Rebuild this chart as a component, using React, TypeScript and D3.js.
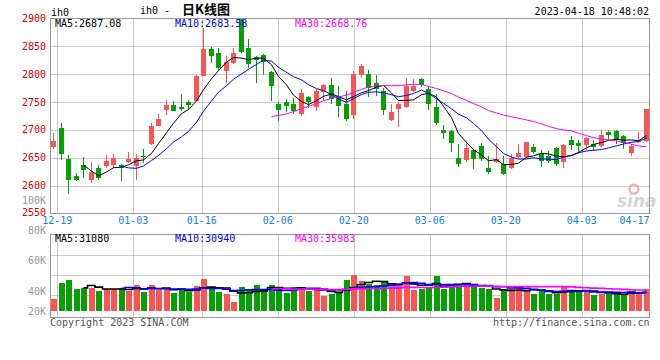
import React from "react";
import * as d3 from "d3";

// trading days shown, 12-19 .. 04-18
const dates = [
  "12-19", "12-20", "12-21", "12-22", "12-23", "12-26", "12-27", "12-28", "12-29", "12-30",
  "01-03", "01-04", "01-05", "01-06", "01-09", "01-10", "01-11", "01-12", "01-13", "01-16",
  "01-17", "01-18", "01-19", "01-20", "01-30", "01-31", "02-01", "02-02", "02-03", "02-06",
  "02-07", "02-08", "02-09", "02-10", "02-13", "02-14", "02-15", "02-16", "02-17", "02-20",
  "02-21", "02-22", "02-23", "02-24", "02-27", "02-28", "03-01", "03-02", "03-03", "03-06",
  "03-07", "03-08", "03-09", "03-10", "03-13", "03-14", "03-15", "03-16", "03-17", "03-20",
  "03-21", "03-22", "03-23", "03-24", "03-27", "03-28", "03-29", "03-30", "03-31", "04-03",
  "04-04", "04-06", "04-07", "04-10", "04-11", "04-12", "04-13", "04-14", "04-17", "04-18",
];

const openP = [
  2669.8, 2703.7, 2647.2, 2618.0, 2636.5, 2610.3, 2631.1, 2635.3, 2637.1, 2636.5,
  2642.4, 2635.3, 2654.0, 2674.0, 2707.9, 2736.4, 2745.3, 2741.8, 2750.1, 2752.5,
  2797.1, 2845.3, 2838.8, 2806.0, 2819.7, 2899.0, 2847.7, 2831.6, 2834.6, 2803.1,
  2746.5, 2749.5, 2747.1, 2729.3, 2759.6, 2740.6, 2768.0, 2781.0, 2760.2, 2747.1,
  2727.5, 2797.7, 2800.7, 2784.0, 2770.3, 2718.6, 2738.2, 2740.6, 2769.2, 2791.8,
  2773.9, 2741.2, 2699.5, 2697.7, 2650.1, 2645.4, 2663.2, 2670.4, 2632.3, 2642.4,
  2639.4, 2631.1, 2651.3, 2651.3, 2669.2, 2656.1, 2653.1, 2666.8, 2643.0, 2681.1,
  2676.9, 2672.8, 2674.0, 2671.0, 2696.6, 2697.7, 2688.8, 2659.1, 2678.7, 2679.9,
];
const highP = [
  2693.6, 2713.2, 2654.3, 2622.8, 2652.0, 2642.4, 2636.5, 2654.3, 2656.1, 2638.2,
  2660.3, 2656.1, 2665.0, 2712.6, 2729.3, 2754.3, 2752.5, 2764.4, 2754.3, 2798.9,
  2882.2, 2849.5, 2847.7, 2833.4, 2847.7, 2900.0, 2863.2, 2833.4, 2835.8, 2806.0,
  2750.1, 2756.1, 2757.2, 2773.9, 2761.4, 2773.9, 2782.8, 2794.1, 2778.1, 2769.1,
  2804.9, 2818.5, 2807.8, 2798.9, 2775.1, 2747.1, 2750.1, 2794.1, 2791.8, 2794.1,
  2778.1, 2765.0, 2709.7, 2700.7, 2674.0, 2679.9, 2666.2, 2676.9, 2653.1, 2675.7,
  2653.1, 2656.1, 2674.0, 2678.7, 2674.0, 2663.8, 2662.0, 2669.2, 2674.0, 2690.0,
  2681.1, 2687.0, 2681.1, 2700.7, 2699.5, 2700.7, 2690.6, 2674.0, 2696.6, 2738.2,
];
const lowP = [
  2665.0, 2646.0, 2584.7, 2608.5, 2613.3, 2605.0, 2610.3, 2631.1, 2632.3, 2608.5,
  2641.2, 2610.3, 2641.2, 2672.8, 2706.7, 2726.3, 2733.4, 2734.6, 2735.2, 2751.3,
  2795.9, 2820.9, 2807.8, 2784.0, 2818.5, 2837.6, 2812.0, 2784.0, 2798.9, 2752.5,
  2716.8, 2732.3, 2729.3, 2725.7, 2739.4, 2733.4, 2751.3, 2746.5, 2722.7, 2715.6,
  2720.4, 2792.9, 2759.6, 2760.2, 2726.3, 2716.8, 2704.9, 2739.4, 2767.4, 2776.3,
  2736.4, 2709.7, 2682.9, 2660.3, 2634.0, 2643.0, 2629.3, 2644.2, 2621.6, 2641.2,
  2619.2, 2629.3, 2649.0, 2650.1, 2656.1, 2633.5, 2641.2, 2635.3, 2632.3, 2663.2,
  2659.1, 2663.2, 2662.0, 2669.2, 2681.1, 2674.0, 2665.0, 2653.1, 2676.9, 2678.7,
];
const closeP = [
  2679.3, 2657.3, 2610.3, 2610.3, 2628.1, 2625.2, 2614.5, 2644.2, 2649.0, 2632.3,
  2647.2, 2650.1, 2652.0, 2707.9, 2719.8, 2745.3, 2734.6, 2738.2, 2745.3, 2797.1,
  2845.3, 2833.4, 2810.8, 2822.7, 2837.6, 2840.5, 2817.9, 2825.7, 2822.7, 2778.1,
  2735.2, 2742.4, 2733.4, 2766.2, 2750.1, 2770.3, 2781.0, 2755.5, 2742.4, 2719.8,
  2800.7, 2815.0, 2775.1, 2773.9, 2735.2, 2732.3, 2746.5, 2778.1, 2778.1, 2779.9,
  2746.5, 2712.6, 2694.8, 2675.7, 2638.2, 2666.8, 2647.2, 2647.2, 2624.6, 2647.2,
  2621.6, 2650.1, 2657.9, 2677.5, 2660.9, 2644.2, 2644.2, 2638.2, 2672.2, 2672.2,
  2671.0, 2684.7, 2669.2, 2690.6, 2690.6, 2681.1, 2676.9, 2671.0, 2682.3, 2738.2,
];
const volume = [
  19500, 46700, 51700, 36700, 38300, 38800, 33300, 36700, 36700, 38300,
  33800, 43300, 32200, 43300, 35500, 36700, 30000, 36700, 31200, 41700,
  53300, 36200, 31700, 28300, 15000, 40000, 36700, 43300, 32800, 43300,
  40000, 30500, 40000, 40000, 33300, 36700, 25000, 28800, 31700, 51200,
  59500, 49500, 45500, 42800, 48300, 40000, 45500, 57800, 34500, 37200,
  40000, 58300, 37200, 41700, 45500, 45500, 41200, 38300, 37200, 21700,
  37200, 37200, 40000, 33800, 28800, 32800, 27800, 28800, 41200, 33300,
  34500, 31700, 26200, 28800, 28800, 28800, 27200, 33800, 28800, 36200,
];

const priceTicks = [2900, 2850, 2800, 2750, 2700, 2650, 2600, 2550];
const volTicks = [100000, 80000, 60000, 40000, 20000];
const dateTicks = ["12-19", "01-03", "01-16", "02-06", "02-20", "03-06", "03-20", "04-03", "04-17"];
const maPeriods = [5, 10, 30];
const maColors = ["#000000", "#0000ff", "#ff00ff"];
const priceMaText = ["MA5:2687.08", "MA10:2683.58", "MA30:2668.76"];
const volMaText = ["MA5:31080", "MA10:30940", "MA30:35983"];

function movingAvg(arr: number[], n: number): (number | null)[] {
  return arr.map((_, i) => (i < n - 1 ? null : d3.mean(arr.slice(i - n + 1, i + 1))!));
}

const MONO = "'DejaVu Sans Mono', monospace";
const RED = "#fa5555";
const GREEN = "#06a006";

export default function App() {
  const left = 50.5, right = 649.5;
  const pTop = 18.5, pBot = 213.5;
  const vTop = 234.5, vBot = 317.5, vBase = 311;

  const x = d3.scaleBand<string>().domain(dates).range([49.5, 649.5]);
  const cx = (i: number) => Math.round(x(dates[i])! + x.bandwidth() / 2);
  // sina puts its date grid on a slightly different step than the candles
  const gx = d3.scaleLinear().domain([0, dates.length - 1]).range([57.3, 657.7]);
  const y = d3.scaleLinear().domain([2550, 2900]).range([pBot, pTop]);
  const yv = d3.scaleLinear().domain([0, 127000]).range([vBase, 234.8]);
  const yvLabel = d3.scaleLinear().domain([0, 100000]).range([355, 204]);

  const priceLine = d3.line<number | null>()
    .defined(d => d != null)
    .x((_, i) => cx(i) + 0.5)
    .y(d => y(d as number));
  const volLine = d3.line<number | null>()
    .defined(d => d != null)
    .x((_, i) => cx(i) + 0.5)
    .y(d => yv(d as number))
    .curve(d3.curveStep);

  const gridXs = dateTicks
    .map(t => gx(dates.indexOf(t)))
    .filter(v => v < right - 1);
  const grid = { stroke: "#999", strokeDasharray: "1,1", strokeWidth: 1 };

  return (
    <svg width={660} height={360} style={{ position: "absolute", left: 0, top: 0, background: "#fff" }}
      fontFamily={MONO} fontSize={10}>
      {/* header */}
      <text x={51} y={16} fill="#000">ih0</text>
      <text x={140} y={13.5} fill="#000">
        ih0 -<tspan dx={12} fontFamily="'Noto Sans CJK SC'" fontWeight="bold" fontSize={13}>日K线图</tspan>
      </text>
      <text x={649} y={15} textAnchor="end" fill="#000">2023-04-18 10:48:02</text>

      {/* price grid */}
      {priceTicks.slice(1, -1).map(t => (
        <line key={t} x1={left} x2={right} y1={Math.round(y(t)) + 0.5} y2={Math.round(y(t)) + 0.5} style={grid} />
      ))}
      {gridXs.map((gxv, i) => (
        <line key={i} x1={Math.round(gxv) + 0.5} x2={Math.round(gxv) + 0.5} y1={pTop} y2={pBot} style={grid} />
      ))}

      {/* watermark */}
      <circle cx={634} cy={189} r={4.5} fill="none" stroke="#f3a8a8" strokeWidth={2} />
      <text x={617} y={207} fontFamily="'DejaVu Sans'" fontStyle="italic" fontWeight="bold" fontSize={17} fill="#d4d4d4">sina</text>

      {/* candles */}
      {dates.map((d, i) => {
        const up = closeP[i] >= openP[i];
        const c = up ? RED : GREEN;
        const top = y(Math.max(openP[i], closeP[i]));
        const bot = y(Math.min(openP[i], closeP[i]));
        return (
          <g key={d} shapeRendering="crispEdges">
            <line x1={cx(i) + 0.5} x2={cx(i) + 0.5} y1={y(highP[i])} y2={y(lowP[i])} stroke={c} />
            <rect x={cx(i) - 2} y={top} width={5} height={Math.max(1, bot - top)} fill={c} />
          </g>
        );
      })}

      {/* price MAs */}
      {maPeriods.map((n, k) => (
        <path key={n} d={priceLine(movingAvg(closeP, n)) || ""} fill="none" stroke={maColors[k]} strokeWidth={1} />
      ))}

      {/* price frame */}
      <rect x={left} y={pTop} width={right - left} height={pBot - pTop} fill="none" stroke="#999" />
      {priceMaText.map((t, k) => (
        <text key={t} x={55 + k * 120} y={27.3} fill={maColors[k]}>{t}</text>
      ))}
      {priceTicks.map(t => (
        <text key={t} x={46} y={Math.min(215.5, Math.max(19.5, y(t) + 3.5))} textAnchor="end" fill="#e00000">{t}</text>
      ))}

      {/* date labels */}
      {dateTicks.map(t => {
        const px = gx(dates.indexOf(t));
        const lastOne = px > right - 16;
        return (
          <text key={t} x={lastOne ? 649.5 : px} y={224.3} textAnchor={lastOne ? "end" : "middle"} fill="#1482dc">{t}</text>
        );
      })}

      {/* volume grid */}
      {[0, 1, 2].map(k => (
        <line key={k} x1={left} x2={right} y1={255.5 + k * 20} y2={255.5 + k * 20} style={grid} />
      ))}
      {gridXs.map((gxv, i) => (
        <line key={i} x1={Math.round(gxv) + 0.5} x2={Math.round(gxv) + 0.5} y1={vTop} y2={vBot} style={grid} />
      ))}

      {/* volume bars */}
      {dates.map((d, i) => {
        const up = closeP[i] >= openP[i];
        return (
          <rect key={d} x={cx(i) - 2.5} y={yv(volume[i])} width={6} height={vBase - yv(volume[i])}
            fill={up ? RED : GREEN} shapeRendering="crispEdges" />
        );
      })}

      {/* volume MAs */}
      {maPeriods.map((n, k) => (
        <path key={n} d={volLine(movingAvg(volume, n)) || ""} fill="none" stroke={maColors[k]} strokeWidth={1.6} />
      ))}

      <rect x={left} y={vTop} width={right - left} height={vBot - vTop} fill="none" stroke="#999" />
      {volMaText.map((t, k) => (
        <text key={t} x={55 + k * 120} y={241.5} fill={maColors[k]}>{t}</text>
      ))}
      {volTicks.map(v => (
        <text key={v} x={46} y={Math.min(314.5, yvLabel(v))} textAnchor="end" fill="#9a9a9a">{`${v / 1000}K`}</text>
      ))}

      {/* footer */}
      <text x={50} y={325.5} fill="#555">Copyright 2023 SINA.COM</text>
      <text x={649.5} y={325.5} textAnchor="end" fill="#555">http://finance.sina.com.cn</text>
    </svg>
  );
}
